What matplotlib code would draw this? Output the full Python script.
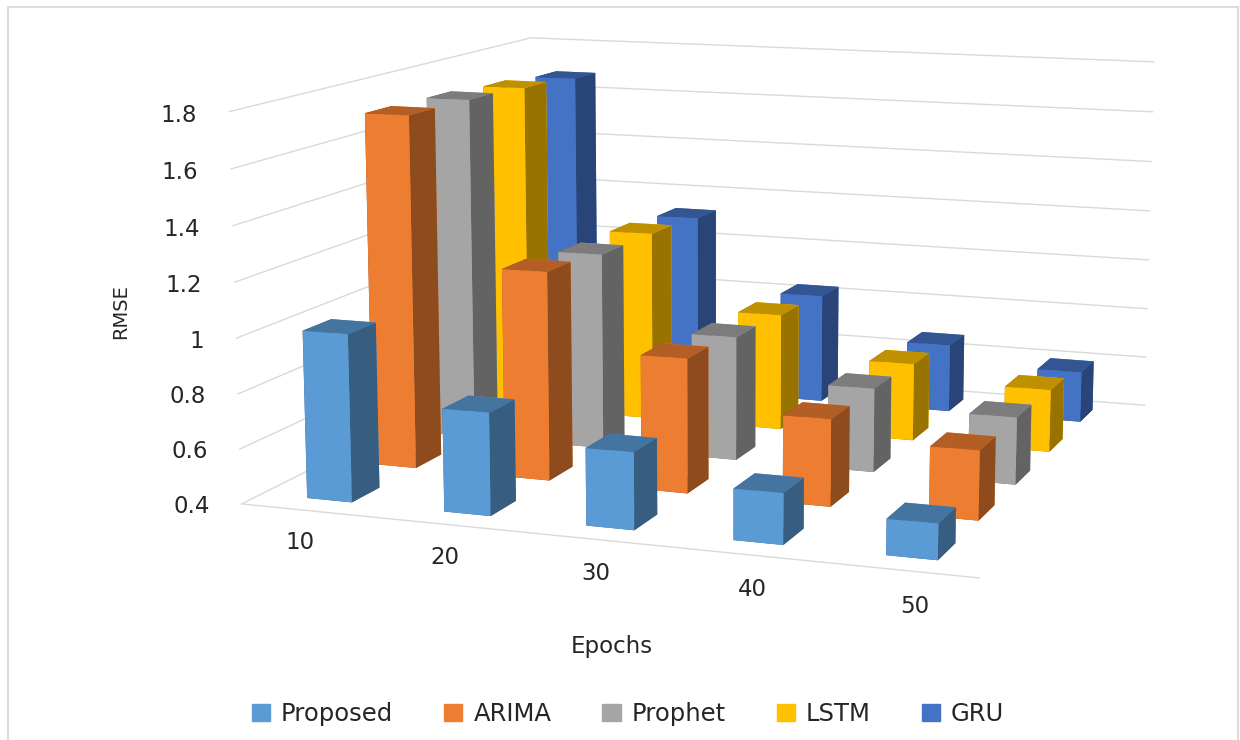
import matplotlib
matplotlib.use("Agg")
import matplotlib.pyplot as plt
from matplotlib.patches import Patch, Rectangle
from matplotlib.colors import to_rgb

plt.rcParams['font.family'] = ['DejaVu Sans']

# DATA
epochs = ["10", "20", "30", "40", "50"]
series = ["Proposed", "ARIMA", "Prophet", "LSTM", "GRU"]
proposed = [1.01, 0.77, 0.675, 0.58, 0.525]
arima = [1.72, 1.175, 0.895, 0.717, 0.65]
prophet = [1.715, 1.15, 0.87, 0.715, 0.65]
lstm = [1.70, 1.145, 0.855, 0.70, 0.64]
gru = [1.68, 1.125, 0.835, 0.67, 0.6]
values = [proposed, arima, prophet, lstm, gru]
colors = ["#5B9BD5", "#ED7D31", "#A5A5A5", "#FFC000", "#4472C4"]
zticks = [0.4, 0.6, 0.8, 1.0, 1.2, 1.4, 1.6, 1.8]
zlabels = ["0.4", "0.6", "0.8", "1", "1.2", "1.4", "1.6", "1.8"]

GRID = "#D9D9D9"
TEXT = "#262626"
BAR_W = 0.33
BAR_D = 0.42

def scaled(c, k):
    return tuple(v * k for v in to_rgb(c))

fig = plt.figure(figsize=(12.4, 7.4), dpi=100)
# frame of the pasted chart, its bottom edge is off the picture
fig.add_artist(Rectangle((7.5 / 1240, -0.01), 1230.5 / 1240, 1 - 7 / 740 + 0.01, transform=fig.transFigure,
                         fill=False, ec="#DCDCDC", lw=1.5))
# axes3d keeps a square box, so make the square as wide as the figure
ax = fig.add_axes([87 / 1240, -167 / 740, 1, 1240 / 740], projection="3d", computed_zorder=False)
ax.patch.set_alpha(0)
ax.set_proj_type("persp", focal_length=0.434)
ax.view_init(elev=10.53, azim=-70.15)
ax.set_xlim(0, 5)
ax.set_ylim(0, 5)
ax.set_zlim(0.4, 1.8)
ax.set_box_aspect((1, 0.965, 0.5195), zoom=0.8327)
ax.set_xticks([])
ax.set_yticks([])
ax.set_zticks([])
ax.set_axis_off()

# walls gridlines
for z in zticks:
    ax.plot([0, 0, 5], [0, 5, 5], [z, z, z], color=GRID, lw=1, zorder=1)
ax.plot([0, 5], [0, 0], [0.4, 0.4], color=GRID, lw=1, zorder=1)

# bars from back to front
order = 10
for j in range(4, -1, -1):
    for i in range(5):
        c = colors[j]
        facecols = [scaled(c, 0.6), scaled(c, 0.75), c, c, scaled(c, 0.6), scaled(c, 0.6)]
        ax.bar3d(i + 0.5 - BAR_W / 2, j + 0.5 - BAR_D / 2, 0.4, BAR_W, BAR_D, values[j][i] - 0.4,
                 color=facecols, shade=False, zorder=order, edgecolor="none")
        order += 1

for z, lab in zip(zticks, zlabels):
    ax.text(-0.24, 0, z - 0.02, lab, ha="right", va="center", fontsize=16.5, color=TEXT)
for i, lab in enumerate(epochs):
    ax.text(i + 0.8, -0.72, 0.4, lab, ha="center", va="center", fontsize=16.5, color=TEXT)

fig.text(121 / 1240, 1 - 312 / 740, "RMSE", rotation=90, ha="center", va="center", fontsize=14, color=TEXT)
fig.text(612 / 1240, 1 - 647 / 740, "Epochs", ha="center", va="center", fontsize=16.5, color=TEXT)

handles = [Patch(color=c, label=s) for c, s in zip(colors, series)]
fig.legend(handles=handles, loc="center", bbox_to_anchor=(628 / 1240, 1 - 714 / 740), ncol=5,
           frameon=False, fontsize=17.5, handlelength=0.75, handleheight=0.75, columnspacing=2.1,
           handletextpad=0.45, labelcolor=TEXT)

fig.savefig("out.png", dpi=100)
